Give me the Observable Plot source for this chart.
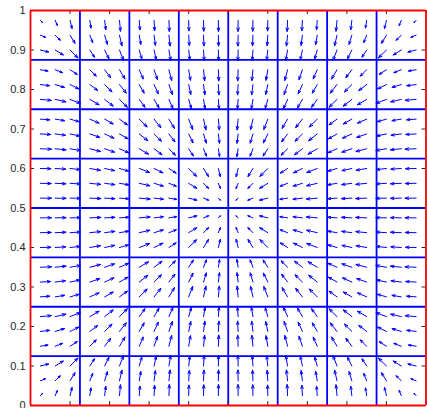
<!DOCTYPE html>
<html><head><meta charset="utf-8">
<script src="https://cdn.jsdelivr.net/npm/d3@7"></script>
<script src="https://cdn.jsdelivr.net/npm/@observablehq/plot@0.6"></script>
<style>html,body{margin:0;padding:0;background:#fff;overflow:hidden;}</style>
</head><body><div id="chart"></div>
<script>
// Sample positions (3 per mesh cell, at 0.2 / 0.5 / 0.8 of each cell)
const xs = [0.025,0.0625,0.1,0.15,0.1875,0.225,0.275,0.3125,0.35,0.4,0.4375,0.475,0.525,0.5625,0.6,0.65,0.6875,0.725,0.775,0.8125,0.85,0.9,0.9375,0.975];
const ys = [0.025,0.0625,0.1,0.15,0.1875,0.225,0.275,0.3125,0.35,0.4,0.4375,0.475,0.525,0.5625,0.6,0.65,0.6875,0.725,0.775,0.8125,0.85,0.9,0.9375,0.975];

// Horizontal arrow components, U[row j (y from bottom)][column i (x from left)], relative to the longest arrow of each cell
const U = [
 [.19,.19,.18,.11,.10,.09,.06,.05,.04,.02,.02,.01,-.01,-.02,-.02,-.04,-.05,-.06,-.09,-.10,-.11,-.18,-.19,-.19],
 [.47,.46,.45,.26,.25,.22,.14,.12,.10,.06,.04,.02,-.02,-.04,-.06,-.10,-.12,-.14,-.22,-.25,-.26,-.45,-.46,-.47],
 [.74,.73,.71,.42,.39,.36,.23,.19,.16,.10,.06,.02,-.02,-.06,-.10,-.16,-.19,-.23,-.36,-.39,-.42,-.71,-.73,-.74],
 [.69,.67,.65,.58,.54,.49,.36,.31,.25,.16,.10,.04,-.04,-.10,-.16,-.25,-.31,-.36,-.49,-.54,-.58,-.65,-.67,-.69],
 [.84,.83,.80,.71,.66,.61,.44,.38,.31,.19,.12,.05,-.05,-.12,-.19,-.31,-.38,-.44,-.61,-.66,-.71,-.80,-.83,-.84],
 [.98,.96,.94,.83,.77,.71,.51,.44,.36,.23,.14,.06,-.06,-.14,-.23,-.36,-.44,-.51,-.71,-.77,-.83,-.94,-.96,-.98],
 [.85,.84,.81,.83,.77,.71,.71,.61,.49,.36,.22,.09,-.09,-.22,-.36,-.49,-.61,-.71,-.71,-.77,-.83,-.81,-.84,-.85],
 [.93,.92,.89,.90,.84,.77,.77,.66,.54,.39,.25,.10,-.10,-.25,-.39,-.54,-.66,-.77,-.77,-.84,-.90,-.89,-.92,-.93],
 [1,.98,.95,.97,.90,.83,.83,.71,.58,.42,.26,.11,-.11,-.26,-.42,-.58,-.71,-.83,-.83,-.90,-.97,-.95,-.98,-1],
 [.95,.94,.91,.95,.89,.81,.94,.80,.65,.71,.45,.18,-.18,-.45,-.71,-.65,-.80,-.94,-.81,-.89,-.95,-.91,-.94,-.95],
 [.98,.97,.94,.98,.92,.84,.96,.83,.67,.73,.46,.19,-.19,-.46,-.73,-.67,-.83,-.96,-.84,-.92,-.98,-.94,-.97,-.98],
 [1,.98,.95,1,.93,.85,.98,.84,.69,.74,.47,.19,-.19,-.47,-.74,-.69,-.84,-.98,-.85,-.93,-1,-.95,-.98,-1],
 [1,.98,.95,1,.93,.85,.98,.84,.69,.74,.47,.19,-.19,-.47,-.74,-.69,-.84,-.98,-.85,-.93,-1,-.95,-.98,-1],
 [.98,.97,.94,.98,.92,.84,.96,.83,.67,.73,.46,.19,-.19,-.46,-.73,-.67,-.83,-.96,-.84,-.92,-.98,-.94,-.97,-.98],
 [.95,.94,.91,.95,.89,.81,.94,.80,.65,.71,.45,.18,-.18,-.45,-.71,-.65,-.80,-.94,-.81,-.89,-.95,-.91,-.94,-.95],
 [1,.98,.95,.97,.90,.83,.83,.71,.58,.42,.26,.11,-.11,-.26,-.42,-.58,-.71,-.83,-.83,-.90,-.97,-.95,-.98,-1],
 [.93,.92,.89,.90,.84,.77,.77,.66,.54,.39,.25,.10,-.10,-.25,-.39,-.54,-.66,-.77,-.77,-.84,-.90,-.89,-.92,-.93],
 [.85,.84,.81,.83,.77,.71,.71,.61,.49,.36,.22,.09,-.09,-.22,-.36,-.49,-.61,-.71,-.71,-.77,-.83,-.81,-.84,-.85],
 [.98,.96,.94,.83,.77,.71,.51,.44,.36,.23,.14,.06,-.06,-.14,-.23,-.36,-.44,-.51,-.71,-.77,-.83,-.94,-.96,-.98],
 [.84,.83,.80,.71,.66,.61,.44,.38,.31,.19,.12,.05,-.05,-.12,-.19,-.31,-.38,-.44,-.61,-.66,-.71,-.80,-.83,-.84],
 [.69,.67,.65,.58,.54,.49,.36,.31,.25,.16,.10,.04,-.04,-.10,-.16,-.25,-.31,-.36,-.49,-.54,-.58,-.65,-.67,-.69],
 [.74,.73,.71,.42,.39,.36,.23,.19,.16,.10,.06,.02,-.02,-.06,-.10,-.16,-.19,-.23,-.36,-.39,-.42,-.71,-.73,-.74],
 [.47,.46,.45,.26,.25,.22,.14,.12,.10,.06,.04,.02,-.02,-.04,-.06,-.10,-.12,-.14,-.22,-.25,-.26,-.45,-.46,-.47],
 [.19,.19,.18,.11,.10,.09,.06,.05,.04,.02,.02,.01,-.01,-.02,-.02,-.04,-.05,-.06,-.09,-.10,-.11,-.18,-.19,-.19]
];

// Vertical arrow components, same layout
const V = [
 [.19,.47,.74,.69,.84,.98,.85,.93,1,.95,.98,1,1,.98,.95,1,.93,.85,.98,.84,.69,.74,.47,.19],
 [.19,.46,.73,.67,.83,.96,.84,.92,.98,.94,.97,.98,.98,.97,.94,.98,.92,.84,.96,.83,.67,.73,.46,.19],
 [.18,.45,.71,.65,.80,.94,.81,.89,.95,.91,.94,.95,.95,.94,.91,.95,.89,.81,.94,.80,.65,.71,.45,.18],
 [.11,.26,.42,.58,.71,.83,.83,.90,.97,.95,.98,1,1,.98,.95,.97,.90,.83,.83,.71,.58,.42,.26,.11],
 [.10,.25,.39,.54,.66,.77,.77,.84,.90,.89,.92,.93,.93,.92,.89,.90,.84,.77,.77,.66,.54,.39,.25,.10],
 [.09,.22,.36,.49,.61,.71,.71,.77,.83,.81,.84,.85,.85,.84,.81,.83,.77,.71,.71,.61,.49,.36,.22,.09],
 [.06,.14,.23,.36,.44,.51,.71,.77,.83,.94,.96,.98,.98,.96,.94,.83,.77,.71,.51,.44,.36,.23,.14,.06],
 [.05,.12,.19,.31,.38,.44,.61,.66,.71,.80,.83,.84,.84,.83,.80,.71,.66,.61,.44,.38,.31,.19,.12,.05],
 [.04,.10,.16,.25,.31,.36,.49,.54,.58,.65,.67,.69,.69,.67,.65,.58,.54,.49,.36,.31,.25,.16,.10,.04],
 [.02,.06,.10,.16,.19,.23,.36,.39,.42,.71,.73,.74,.74,.73,.71,.42,.39,.36,.23,.19,.16,.10,.06,.02],
 [.02,.04,.06,.10,.12,.14,.22,.25,.26,.45,.46,.47,.47,.46,.45,.26,.25,.22,.14,.12,.10,.06,.04,.02],
 [.01,.02,.02,.04,.05,.06,.09,.10,.11,.18,.19,.19,.19,.19,.18,.11,.10,.09,.06,.05,.04,.02,.02,.01],
 [-.01,-.02,-.02,-.04,-.05,-.06,-.09,-.10,-.11,-.18,-.19,-.19,-.19,-.19,-.18,-.11,-.10,-.09,-.06,-.05,-.04,-.02,-.02,-.01],
 [-.02,-.04,-.06,-.10,-.12,-.14,-.22,-.25,-.26,-.45,-.46,-.47,-.47,-.46,-.45,-.26,-.25,-.22,-.14,-.12,-.10,-.06,-.04,-.02],
 [-.02,-.06,-.10,-.16,-.19,-.23,-.36,-.39,-.42,-.71,-.73,-.74,-.74,-.73,-.71,-.42,-.39,-.36,-.23,-.19,-.16,-.10,-.06,-.02],
 [-.04,-.10,-.16,-.25,-.31,-.36,-.49,-.54,-.58,-.65,-.67,-.69,-.69,-.67,-.65,-.58,-.54,-.49,-.36,-.31,-.25,-.16,-.10,-.04],
 [-.05,-.12,-.19,-.31,-.38,-.44,-.61,-.66,-.71,-.80,-.83,-.84,-.84,-.83,-.80,-.71,-.66,-.61,-.44,-.38,-.31,-.19,-.12,-.05],
 [-.06,-.14,-.23,-.36,-.44,-.51,-.71,-.77,-.83,-.94,-.96,-.98,-.98,-.96,-.94,-.83,-.77,-.71,-.51,-.44,-.36,-.23,-.14,-.06],
 [-.09,-.22,-.36,-.49,-.61,-.71,-.71,-.77,-.83,-.81,-.84,-.85,-.85,-.84,-.81,-.83,-.77,-.71,-.71,-.61,-.49,-.36,-.22,-.09],
 [-.10,-.25,-.39,-.54,-.66,-.77,-.77,-.84,-.90,-.89,-.92,-.93,-.93,-.92,-.89,-.90,-.84,-.77,-.77,-.66,-.54,-.39,-.25,-.10],
 [-.11,-.26,-.42,-.58,-.71,-.83,-.83,-.90,-.97,-.95,-.98,-1,-1,-.98,-.95,-.97,-.90,-.83,-.83,-.71,-.58,-.42,-.26,-.11],
 [-.18,-.45,-.71,-.65,-.80,-.94,-.81,-.89,-.95,-.91,-.94,-.95,-.95,-.94,-.91,-.95,-.89,-.81,-.94,-.80,-.65,-.71,-.45,-.18],
 [-.19,-.46,-.73,-.67,-.83,-.96,-.84,-.92,-.98,-.94,-.97,-.98,-.98,-.97,-.94,-.98,-.92,-.84,-.96,-.83,-.67,-.73,-.46,-.19],
 [-.19,-.47,-.74,-.69,-.84,-.98,-.85,-.93,-1,-.95,-.98,-1,-1,-.98,-.95,-1,-.93,-.85,-.98,-.84,-.69,-.74,-.47,-.19]
];

const meshInterior = [0.125,0.25,0.375,0.5,0.625,0.75,0.875];
const meshBoundary = [0,1];
const tickValues = [0,0.1,0.2,0.3,0.4,0.5,0.6,0.7,0.8,0.9,1];
const arrowScale = 0.028; // data units for a relative length of 1

const field = [];
ys.forEach((y, j) => xs.forEach((x, i) => field.push({x, y, u: U[j][i], v: V[j][i]})));

const W = 427, H = 432, mL = 30, mR = 1.5, mT = 10, mB = 27;
const frameW = W - mL - mR, frameH = H - mT - mB;
const tickLen = 4;

const chart = Plot.plot({
  width: W, height: H,
  marginLeft: mL, marginRight: mR, marginTop: mT, marginBottom: mB,
  x: {domain: [0, 1], axis: null},
  y: {domain: [0, 1]},
  style: {fontFamily: "'Liberation Sans', Arial, Helvetica, sans-serif", fontSize: "11px", color: "#262626", background: "white", overflow: "visible"},
  marks: [
    Plot.ruleX(meshInterior, {stroke: "#0000ff", strokeWidth: 1.8}),
    Plot.ruleY(meshInterior, {stroke: "#0000ff", strokeWidth: 1.8}),
    Plot.arrow(field, {
      x1: "x", y1: "y",
      x2: d => d.x + d.u * arrowScale,
      y2: d => d.y + d.v * arrowScale,
      stroke: "#0000ff", strokeWidth: 1, headAngle: 40, headLength: 8
    }),
    Plot.tickY(tickValues, {y: d => d, stroke: "#262626", insetRight: frameW - tickLen}),
    Plot.tickY(tickValues, {y: d => d, stroke: "#262626", insetLeft: frameW - tickLen}),
    Plot.tickX(tickValues, {x: d => d, stroke: "#262626", insetTop: frameH - tickLen}),
    Plot.tickX(tickValues, {x: d => d, stroke: "#262626", insetBottom: frameH - tickLen}),
    Plot.ruleX(meshBoundary, {stroke: "#ff0000", strokeWidth: 1.8}),
    Plot.ruleY(meshBoundary, {stroke: "#ff0000", strokeWidth: 1.8}),
    Plot.axisY({ticks: tickValues, tickSize: 0, tickPadding: 5, tickFormat: d => String(d), label: null})
  ]
});
document.getElementById("chart").appendChild(chart);
</script>
</body></html>
